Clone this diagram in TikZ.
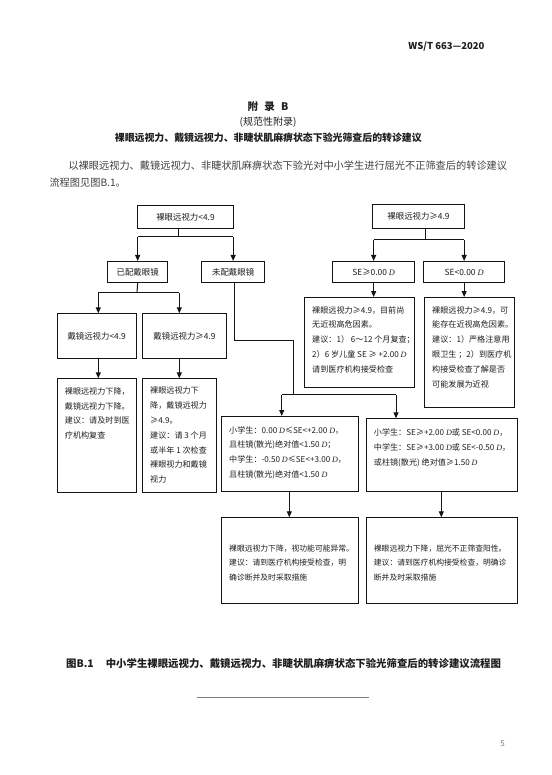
\documentclass[tikz,border=0pt]{standalone}
\usepackage{fontspec}
\setmainfont{Noto Sans CJK SC}
\newfontfamily\serlat{Liberation Serif}
\usetikzlibrary{arrows.meta}
\newcommand{\Dit}{{\serlat\itshape D}}
\definecolor{ink}{HTML}{1E1E1E}
\definecolor{lineink}{HTML}{141414}
\tikzset{
  box/.style={draw=lineink, line width=1pt, inner sep=0pt, anchor=north west, text=ink,
              font=\fontsize{8.4}{10}\selectfont},
  boxtext/.style={inner sep=0pt, anchor=north west, align=left, text=ink,
              font=\fontsize{8.1}{14.8}\selectfont},
  ln/.style={draw=lineink, line width=1pt},
  arr/.style={ln, -{Triangle[length=6pt,width=5pt]}},
}
\newcommand{\bx}[6]{\node[box, minimum width={(#4-#2)*1pt}, minimum height={(#5-#3)*1pt}] (#1) at (#2,#3) {#6};}
\begin{document}
\begin{tikzpicture}[x=1pt,y=-1pt]
\path[use as bounding box, fill=white] (0,0) rectangle (551,775);

% header and titles
\node[anchor=east, text=ink] (hdr) at (488,47) {\fontsize{9.5}{10}\selectfont\bfseries WS/T 663—2020};
\node[text=ink] (t1) at (268,107) {\fontsize{10.5}{12}\selectfont\bfseries 附\hspace{0.6em}录\hspace{0.6em}B};
\node[text=ink] (t2) at (268,122) {\fontsize{10}{12}\selectfont (规范性附录)};
\node[text=ink] (t3) at (268.3,137.7) {\fontsize{9.9}{12}\selectfont\bfseries 裸眼远视力、戴镜远视力、非睫状肌麻痹状态下验光筛查后的转诊建议};
\node[anchor=west, inner sep=0pt, text=ink!85] (p1) at (68.3,166) {\fontsize{10.2}{12}\selectfont 以裸眼远视力、戴镜远视力、非睫状肌麻痹状态下验光对中小学生进行屈光不正筛查后的转诊建议};
\node[anchor=west, inner sep=0pt, text=ink!85] (p2) at (49.3,182.7) {\fontsize{10.2}{12}\selectfont 流程图见图B.1。};

% boxes
\bx{A}{137}{205}{233}{228.3}{裸眼远视力<4.9}
\bx{B}{372}{204.3}{464}{228.3}{裸眼远视力≥4.9}
\bx{C}{107}{261}{167.3}{282}{已配戴眼镜}
\bx{D}{201.3}{261}{264}{282}{未配戴眼镜}
\bx{E}{332.3}{261}{414}{282}{SE≥0.00 \Dit}
\bx{F}{423.3}{261}{504}{282}{SE<0.00 \Dit}
\bx{G}{56.7}{313.3}{135.7}{357.7}{戴镜远视力<4.9}
\bx{H}{142.3}{313.3}{225.7}{357.7}{戴镜远视力≥4.9}
\bx{I}{56.7}{378.3}{135.7}{491.7}{}
\bx{J}{142}{378.3}{215.7}{491.7}{}
\bx{K}{304}{297}{414}{387.3}{}
\bx{L}{424}{297}{514.3}{406.7}{}
\bx{M}{221}{416}{358.3}{491}{}
\bx{N}{365.7}{418.3}{516.7}{491}{}
\bx{O}{221}{517.3}{358.3}{602.7}{}
\bx{P}{365.7}{517.3}{517}{602.7}{}

% box texts
\node[boxtext] (It) at ([xshift=8pt,yshift=-9pt]I.north west) {裸眼远视力下降，\\戴镜远视力下降。\\建议：请及时到医\\疗机构复查};
\node[boxtext] (Jt) at ([xshift=8pt,yshift=-8.5pt]J.north west) {裸眼远视力下\\降，戴镜远视力\\≥4.9。\\建议：请 3 个月\\或半年 1 次检查\\裸眼视力和戴镜\\视力};
\node[boxtext] (Kt) at ([xshift=8pt,yshift=-9pt]K.north west) {裸眼远视力≥4.9，目前尚\\无近视高危因素。\\建议：1） 6～12 个月复查；\\2）6 岁儿童 SE ≥ +2.00 \Dit\\请到医疗机构接受检查};
\node[boxtext] (Lt) at ([xshift=8pt,yshift=-9pt]L.north west) {裸眼远视力≥4.9，可\\能存在近视高危因素。\\建议：1）严格注意用\\眼卫生 ；2）到医疗机\\构接受检查了解是否\\可能发展为近视};
\node[boxtext] (Mt) at ([xshift=8pt,yshift=-10pt]M.north west) {小学生：0.00 \Dit≤SE<+2.00 \Dit，\\且柱镜(散光)绝对值<1.50 \Dit；\\中学生：-0.50 \Dit≤SE<+3.00 \Dit，\\且柱镜(散光)绝对值<1.50 \Dit};
\node[boxtext] (Nt) at ([xshift=8pt,yshift=-10.5pt]N.north west) {小学生：SE≥+2.00 \Dit 或 SE<0.00 \Dit，\\中学生：SE≥+3.00 \Dit 或 SE<-0.50 \Dit，\\或柱镜(散光) 绝对值≥1.50 \Dit};
\node[boxtext, font=\fontsize{7.8}{14.5}\selectfont] (Ot) at ([xshift=8pt,yshift=-27pt]O.north west) {裸眼远视力下降，视功能可能异常。\\建议：请到医疗机构接受检查，明\\确诊断并及时采取措施};
\node[boxtext, font=\fontsize{7.8}{14.5}\selectfont] (Pt) at ([xshift=8pt,yshift=-27pt]P.north west) {裸眼远视力下降，屈光不正筛查阳性。\\建议：请到医疗机构接受检查，明确诊\\断并及时采取措施};

% connectors: left branch
\coordinate (aj) at (178.3,236.7);
\draw[ln] (A.south -| aj) -- (aj);
\draw[ln] (C.north |- aj) -- (D.north |- aj);
\draw[arr] (C.north |- aj) -- (C.north);
\draw[arr] (D.north |- aj) -- (D.north);

\coordinate (cj) at (137,292.7);
\coordinate (gx) at (98.3,292.7);
\coordinate (hx) at (179.3,292.7);
\draw[ln] (C.south) -- (cj);
\draw[ln] (gx) -- (hx);
\draw[arr] (gx) -- (G.north -| gx);
\draw[arr] (hx) -- (H.north -| hx);
\draw[arr] (G.south -| gx) -- (I.north -| gx);
\draw[arr] (H.south -| hx) -- (J.north -| hx);

\coordinate (d1) at (234.3,340);
\coordinate (d2) at (293.3,340);
\coordinate (dj) at (293.3,394.5);
\coordinate (mx) at (281.7,394.5);
\coordinate (nx) at (396,394.5);
\draw[ln] (D.south -| d1) -- (d1) -- (d2) -- (dj);
\draw[ln] (mx) -- (nx);
\draw[arr] (mx) -- (M.north -| mx);
\draw[arr] (nx) -- (N.north -| nx);
\coordinate (ox) at (289.3,500);
\coordinate (px) at (441.3,500);
\draw[arr] (M.south -| ox) -- (O.north -| ox);
\draw[arr] (N.south -| px) -- (P.north -| px);

% right branch
\coordinate (bj) at (425,240);
\draw[ln] (B.south -| bj) -- (bj);
\draw[ln] (E.north |- bj) -- (F.north |- bj);
\draw[arr] (E.north |- bj) -- (E.north);
\draw[arr] (F.north |- bj) -- (F.north);
\draw[arr] (E.south) -- (K.north -| E.south);
\draw[arr] (F.south) -- (L.north -| F.south);

% caption
\node[anchor=west, inner sep=0pt, text=ink] (cap) at (66,663.3) {\fontsize{10.4}{12}\selectfont\bfseries 图B.1\hspace{12pt}中小学生裸眼远视力、戴镜远视力、非睫状肌麻痹状态下验光筛查后的转诊建议流程图};
\coordinate (s1) at (196.7,697.3);
\coordinate (s2) at (369.3,697.3);
\draw[draw=gray, line width=0.8pt] (s1) -- (s2);
\node[text=gray] (pg) at (502.7,743.3) {\fontsize{8}{9}\selectfont 5};
\end{tikzpicture}
\end{document}
